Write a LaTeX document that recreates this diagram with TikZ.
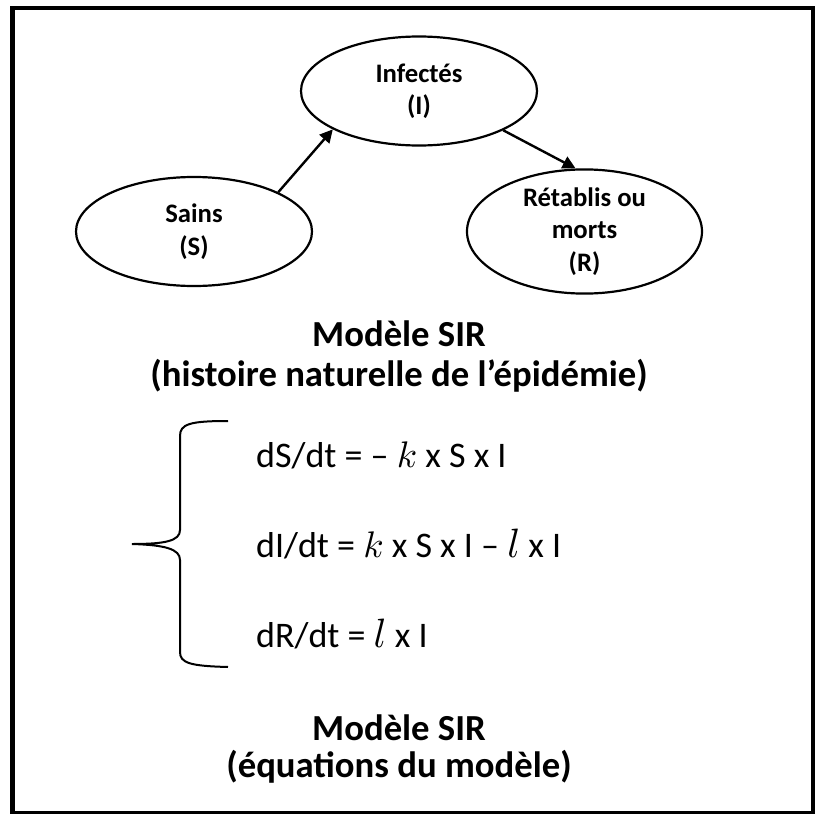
\documentclass[tikz,border=0pt]{standalone}
\usepackage{fontspec}
\setmainfont{Carlito}
\usetikzlibrary{arrows.meta,shapes.geometric}
\tikzset{
  compartment/.style={draw, line width=2.2pt, ellipse, inner sep=0pt,
    minimum width=236pt, minimum height=109pt, align=center,
    font=\fontsize{26.7}{32.5}\selectfont\bfseries},
  flow/.style={line width=2.4pt, -{Triangle[length=13pt,width=13pt]}},
  heading/.style={inner sep=0pt, font=\fontsize{36.7}{44}\selectfont\bfseries},
  equation/.style={anchor=west, inner sep=0pt, font=\fontsize{36}{43}\selectfont},
  bracket/.style={line width=2pt},
  frame/.style={line width=4.5pt},
}
% rate symbols drawn from the 10pt math italic, enlarged
\newcommand\rate{{\fontsize{10}{12}\selectfont\scalebox{3.7}{$k$}}}
\newcommand\recov{{\fontsize{10}{12}\selectfont\scalebox{4.1}{$l$}}}
\begin{document}
\begin{tikzpicture}[x=1pt,y=-1pt]
  \useasboundingbox (0,0) rectangle (815,814);
  \begin{scope}
    \clip (0,0) rectangle (815,814);
    \draw[frame] (12.5,8) rectangle (813,813);
  \end{scope}

  % compartments of the SIR model
  \node[compartment] (I) at (419,91)    {Infectés\\(I)};
  \node[compartment] (S) at (194,231.5) {Sains\\(S)};
  \node[compartment, minimum width=235pt, minimum height=111pt] (R) at (584.5,231.5)
    {Rétablis ou\\morts\\(R)};

  % flows between compartments
  \draw[flow] (S.25) -- (I.204);
  \draw[flow] (I.-25) -- (R.98);

  % headings
  \node[heading] (h1) at (399,334) {Modèle SIR};
  \node[heading] (h2) at (399,376) {(histoire naturelle de l’épidémie)};

  % system of equations
  \node[equation] (e1) at (256,455) {dS/dt = – \rate{} x S x I};
  \node[equation] (e2) at (256,544) {dI/dt = \rate{} x S x I – \recov{} x I};
  \node[equation] (e3) at (256,634) {dR/dt = \recov{} x I};

  % left brace grouping the equations
  \coordinate (btop) at (228,421);
  \coordinate (btip) at (132,544);
  \coordinate (bbot) at (228,667);
  \draw[bracket] (btop) .. controls (190,421) and (180,424) .. (180,436)
    -- (180,530) .. controls (180,541) and (165,544) .. (btip)
    .. controls (165,545) and (180,549) .. (180,560)
    -- (180,652) .. controls (180,663) and (190,666) .. (bbot);

  \node[heading] (h3) at (399,728) {Modèle SIR};
  \node[heading] (h4) at (399,767) {(équations du modèle)};
\end{tikzpicture}
\end{document}
